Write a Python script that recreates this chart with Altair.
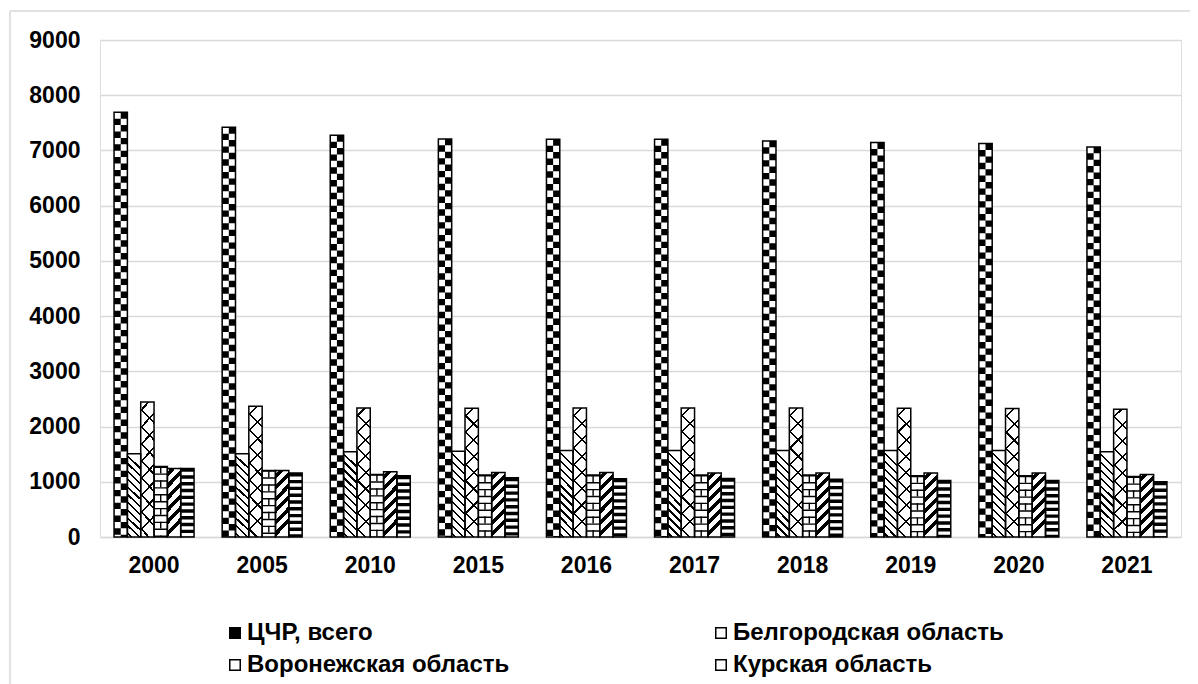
import math
import altair as alt
import pandas as pd

# ---------------- data ----------------
years = ["2000", "2005", "2010", "2015", "2016", "2017", "2018", "2019", "2020", "2021"]
series = ["ЦЧР, всего", "Белгородская область", "Воронежская область",
          "Курская область", "Липецкая область", "Тамбовская область"]
cchr = [7691, 7420, 7275, 7208, 7202, 7202, 7172, 7142, 7124, 7064]
belgorod = [1506, 1506, 1542, 1554, 1566, 1566, 1566, 1566, 1566, 1542]
voronezh = [2446, 2368, 2338, 2332, 2338, 2338, 2338, 2332, 2326, 2314]
kursk = [1277, 1205, 1133, 1121, 1121, 1121, 1121, 1109, 1109, 1096]
lipetsk = [1241, 1205, 1181, 1169, 1169, 1157, 1157, 1157, 1157, 1133]
tambov = [1241, 1157, 1109, 1072, 1054, 1060, 1048, 1024, 1024, 1000]
y_ticks = [0, 1000, 2000, 3000, 4000, 5000, 6000, 7000, 8000, 9000]
legend_shown = series[:4]   # the reference picture shows only these legend rows

rows = []
for name, vals in zip(series, [cchr, belgorod, voronezh, kursk, lipetsk, tambov]):
    for yr, v in zip(years, vals):
        rows.append({"year": yr, "series": name, "value": v})
df = pd.DataFrame(rows)

# ---------------- styling ----------------
FONT = "Liberation Sans"
PLOT_W, PLOT_H = 1081, 497
GROUP_FRAC = 0.74
BAND_W = PLOT_W / 10 * GROUP_FRAC   # width of one year group in px
BAR_W = BAND_W / 6                  # width of one bar in px
GRID = "#d9d9d9"


def stripe_stops(n, duty, on, off):
    stops = []
    for k in range(n):
        s = k / n
        m = (k + (1 - duty) / 2) / n
        e = (k + (1 + duty) / 2) / n
        f = (k + 1) / n
        stops += [{"offset": round(s, 5), "color": off},
                  {"offset": round(m, 5), "color": off},
                  {"offset": round(m, 5), "color": on},
                  {"offset": round(e, 5), "color": on},
                  {"offset": round(e, 5), "color": off},
                  {"offset": round(f, 5), "color": off}]
    return stops


def diag(h_px, period, duty, on="black", off="white", direction="/"):
    a = BAR_W / h_px
    n = max(1, round(h_px * (1 + a * a) / (period * math.sqrt(2))))
    g = {"gradient": "linear", "stops": stripe_stops(n, duty, on, off)}
    if direction == "/":
        g.update({"x1": 0, "y1": 0, "x2": a, "y2": 1})
    else:
        g.update({"x1": a, "y1": 0, "x2": 0, "y2": 1})
    return g


x_scale = alt.Scale(paddingInner=1 - GROUP_FRAC, paddingOuter=(1 - GROUP_FRAC) / 2)
x_axis = alt.Axis(labelAngle=0, labelFont=FONT, labelFontSize=23,
                  labelFontWeight="bold", labelColor="black",
                  labelPadding=17, ticks=False, domainColor=GRID,
                  domainWidth=1.5, grid=False)
x_enc = alt.X("year:N", sort=years, title=None, scale=x_scale, axis=x_axis)
xo_enc = alt.XOffset("series:N", sort=series, scale=alt.Scale(domain=series))
y_enc = alt.Y("value:Q", title=None,
              scale=alt.Scale(domain=[0, 9000], nice=False),
              axis=alt.Axis(values=y_ticks, format="d", labelFont=FONT,
                            labelFontSize=23, labelFontWeight="bold",
                            labelColor="black", labelPadding=20, ticks=False,
                            domain=False, gridColor=GRID, gridWidth=1.5))

base = alt.Chart(df).encode(x=x_enc, xOffset=xo_enc, y=y_enc)


def only(name):
    return base.transform_filter(alt.datum.series == name)


legend = alt.Legend(orient="none", legendX=123, legendY=581, columns=2,
                    direction="horizontal", values=legend_shown,
                    columnPadding=199, rowPadding=8, title=None,
                    labelFont=FONT, labelFontSize=24, labelFontWeight="bold",
                    labelColor="black", labelLimit=600, labelOffset=0,
                    symbolType="square", symbolSize=110,
                    symbolStrokeColor="black", symbolStrokeWidth=1.5)

fills = ["black", "white", "white", "white", "white", "white"]
bars = base.mark_bar(strokeWidth=0).encode(
    fill=alt.Fill("series:N", sort=series,
                  scale=alt.Scale(domain=series, range=fills), legend=legend)
)

# ЦЧР: checkerboard (white squares on the black bar), two columns of squares
half = BAR_W / 2
sq = 6.4
cchr_only = alt.Chart(df).transform_filter(alt.datum.series == series[0])
chk_l = cchr_only.mark_rule(color="white", strokeWidth=half,
                            strokeDash=[sq, sq]).encode(
    x=alt.X("year:N", sort=years, title=None, scale=x_scale, axis=x_axis,
            bandPosition=(half / 2) / BAND_W),
    y=y_enc, y2=alt.datum(0))
chk_r = cchr_only.mark_rule(color="white", strokeWidth=half,
                            strokeDash=[sq, sq], strokeDashOffset=sq).encode(
    x=alt.X("year:N", sort=years, title=None, scale=x_scale, axis=x_axis,
            bandPosition=(1.5 * half) / BAND_W),
    y=y_enc, y2=alt.datum(0))

# Белгородская: thin "\" hatch
bel_l = only(series[1]).mark_bar(fill=diag(86, 5.5, 0.28, direction="\\"), strokeWidth=0)
# Воронежская: thin cross hatch
vor_1 = only(series[2]).mark_bar(fill=diag(129, 11, 0.13, direction="/"), strokeWidth=0)
vor_2 = only(series[2]).mark_bar(fill=diag(129, 11, 0.13, off="rgba(255,255,255,0)",
                                           direction="\\"), strokeWidth=0)
# Курская: brick
kur_h = only(series[3]).mark_rule(color="black", strokeWidth=BAR_W,
                                  strokeDash=[1.4, 5.5]).encode(y2=alt.datum(0))
kur_v = only(series[3]).mark_rule(color="black", strokeWidth=1.4,
                                  strokeDash=[6.9, 6.9]).encode(y2=alt.datum(0))
# Липецкая: thick "/" stripes
lip_l = only(series[4]).mark_bar(fill=diag(64, 8, 0.45, direction="/"), strokeWidth=0)
# Тамбовская: horizontal stripes
tam_h = only(series[5]).mark_rule(color="black", strokeWidth=BAR_W,
                                  strokeDash=[3.4, 3.4]).encode(y2=alt.datum(0))

outline = base.mark_bar(fill="transparent", stroke="black", strokeWidth=1.5)

deco = alt.Data(values=[{"k": 1}])
border_v = alt.Chart(deco).mark_rule(color=GRID, strokeWidth=1.5).encode(
    x=alt.value(-90), y=alt.value(-29), y2=alt.value(800))
border_h = alt.Chart(deco).mark_rule(color=GRID, strokeWidth=1.5).encode(
    x=alt.value(-90), x2=alt.value(1400), y=alt.value(-29))

chart = alt.layer(
    border_v, border_h, bars, chk_l, chk_r, bel_l, vor_1, vor_2,
    kur_h, kur_v, lip_l, tam_h, outline
).properties(
    width=PLOT_W, height=PLOT_H,
    autosize=alt.AutoSizeParams(type="none"),
    padding={"left": 92, "top": 32, "right": 9, "bottom": 150},
).configure_view(stroke=None).configure(background="white")

chart.save("out.html", embed_options={"renderer": "svg", "actions": False})
